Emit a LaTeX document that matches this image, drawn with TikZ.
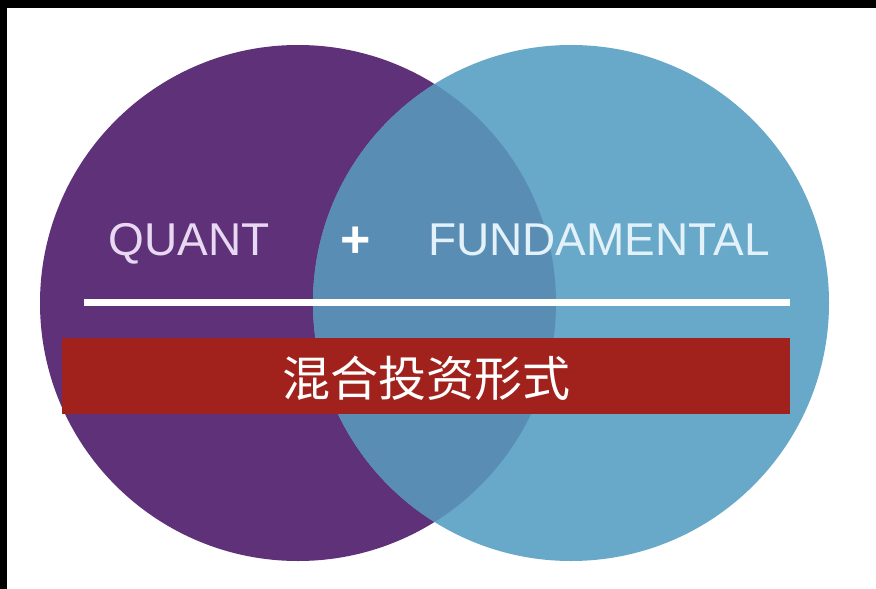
\documentclass[tikz,border=0pt]{standalone}
\usepackage{fontspec}
\setmainfont{Liberation Sans}
\newfontfamily\cjk{Noto Sans CJK SC}
\usepackage{tikz}

\definecolor{quantpurple}{HTML}{5E3179}
\definecolor{fundblue}{HTML}{68A8C8}
\definecolor{mixblue}{HTML}{5A8DB4}
\definecolor{bandred}{HTML}{A1221C}
\definecolor{quanttext}{HTML}{E8D8F2}
\definecolor{fundtext}{HTML}{E2F1FA}

\begin{document}
\begin{tikzpicture}
  [x=1pt,y=-1pt,every node/.style={inner sep=0pt},
   word/.style={anchor=base,font=\fontsize{46}{46}\selectfont}]
  \useasboundingbox (0,0) rectangle (876,589);
  \fill[white] (0,0) rectangle (876,589);
  % frame edges
  \fill[black] (0,0) rectangle (876,8);
  \fill[black] (0,0) rectangle (7,589);

  % the two circles
  \node [circle,fill=quantpurple,minimum size=516pt] (quant) at (298,303) {};
  \node [circle,fill=fundblue,minimum size=516pt] (fund) at (571,303) {};
  \begin{scope}
    \clip (298,303) circle (258);
    \fill[mixblue] (571,303) circle (258);
  \end{scope}

  % labels
  \node [word,text=quanttext] (q) at (189,255) {QUANT};
  \node [word,text=white,font=\fontsize{52}{52}\bfseries] (plus) at (356,257) {+};
  \node [word,text=fundtext] (f) at (599,255) {FUNDAMENTAL};

  \coordinate (r1) at (84,302);
  \coordinate (r2) at (790,302);
  \draw [white,line width=7pt] (r1) -- (r2);

  \node [fill=bandred,minimum width=728pt,minimum height=76pt] (band) at (426,376) {};
  \node [text=white,font=\cjk\fontsize{48}{48}\selectfont] (mix) at (426,378) {混合投资形式};

\end{tikzpicture}
\end{document}
